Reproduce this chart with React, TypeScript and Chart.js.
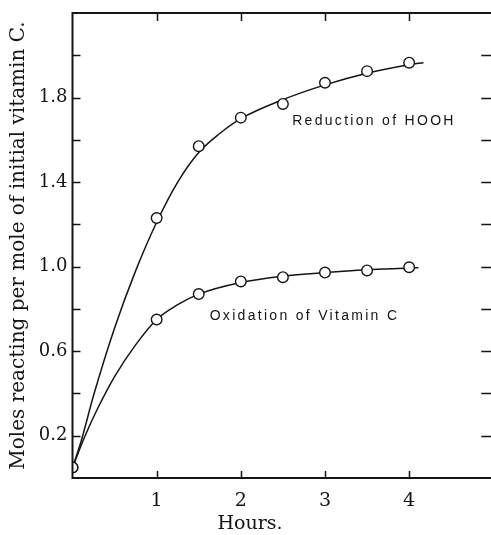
import React, { useEffect, useRef } from 'react';
import { Chart, registerables } from 'chart.js';

Chart.register(...registerables);

// Measured points (hours vs moles reacting per mole of initial vitamin C)
const hours = [0, 1, 1.5, 2, 2.5, 3, 3.5, 4];
const reductionHOOH = [0.05, 1.23, 1.57, 1.705, 1.77, 1.87, 1.925, 1.965];
const oxidationVitaminC = [0.05, 0.75, 0.87, 0.93, 0.95, 0.972, 0.982, 0.997];

// Hand-drawn smooth curves
const reductionCurveHours = [0, 0.1, 0.25, 0.5, 0.75, 1, 1.25, 1.5, 1.75, 2, 2.5, 3, 3.5, 4, 4.17];
const reductionCurveValues = [0.05, 0.17, 0.39, 0.71, 0.98, 1.21, 1.4, 1.54, 1.63, 1.7, 1.79, 1.86, 1.915, 1.955, 1.965];
const oxidationCurveHours = [0, 0.15, 0.3, 0.5, 0.75, 1, 1.25, 1.5, 2, 2.5, 3, 3.5, 4, 4.11];
const oxidationCurveValues = [0.05, 0.2, 0.33, 0.48, 0.63, 0.75, 0.82, 0.87, 0.925, 0.955, 0.972, 0.985, 0.993, 0.995];

const xTickLabels = [1, 2, 3, 4];
const yTickMarks = [0.2, 0.4, 0.6, 0.8, 1.0, 1.2, 1.4, 1.6, 1.8, 2.0];
const yTickLabels = [0.2, 0.6, 1.0, 1.4, 1.8];

const xAxisTitle = 'Hours.';
const xAxisTitleAt = 2.11; // hour value under the title's centre
const seriesLabels = ['Reduction of HOOH', 'Oxidation of Vitamin C'];
const seriesLabelAnchors = [
  { x: 2.61, y: 1.69 },
  { x: 1.63, y: 0.765 },
];

const INK = '#141414';
const SERIF = '"DejaVu Serif", "Liberation Serif", serif';

const zeroPad = (s: any) => {
  s.paddingLeft = 0;
  s.paddingRight = 0;
  s.paddingTop = 0;
  s.paddingBottom = 0;
};

const framePlugin = {
  id: 'frameTicks',
  afterDraw(chart: any) {
    const { ctx, chartArea: a, scales } = chart;
    const x = scales.x;
    const y = scales.y;
    ctx.save();
    ctx.strokeStyle = INK;
    ctx.lineWidth = 2;
    ctx.beginPath();
    ctx.moveTo(chart.width, a.top);
    ctx.lineTo(a.left, a.top);
    ctx.lineTo(a.left, a.bottom);
    ctx.lineTo(chart.width, a.bottom);
    ctx.stroke();

    ctx.lineWidth = 1.5;
    ctx.beginPath();
    for (const v of yTickMarks) {
      const py = Math.round(y.getPixelForValue(v)) + 0.5;
      ctx.moveTo(a.left, py);
      ctx.lineTo(a.left + 8, py);
      ctx.moveTo(a.right, py);
      ctx.lineTo(a.right - 12, py);
    }
    for (const v of xTickLabels) {
      const px = Math.round(x.getPixelForValue(v)) + 0.5;
      ctx.moveTo(px, a.top);
      ctx.lineTo(px, a.top + 8);
      ctx.moveTo(px, a.bottom);
      ctx.lineTo(px, a.bottom - 7);
    }
    ctx.stroke();

    ctx.fillStyle = INK;
    ctx.font = '19px ' + SERIF;
    ctx.textAlign = 'center';
    ctx.textBaseline = 'alphabetic';
    ctx.fillText(xAxisTitle, x.getPixelForValue(xAxisTitleAt), 529);
    ctx.restore();
  },
};

const labelPlugin = {
  id: 'seriesLabels',
  afterDatasetsDraw(chart: any) {
    const { ctx, scales } = chart;
    ctx.save();
    ctx.fillStyle = INK;
    ctx.font = '14px "Liberation Sans", Arial, sans-serif';
    (ctx as any).letterSpacing = '2.3px';
    ctx.textAlign = 'left';
    ctx.textBaseline = 'middle';
    seriesLabels.forEach((t, i) => {
      const p = seriesLabelAnchors[i];
      ctx.fillText(t, scales.x.getPixelForValue(p.x), scales.y.getPixelForValue(p.y));
    });
    ctx.restore();
  },
};

export default function App() {
  const ref = useRef<HTMLCanvasElement | null>(null);

  useEffect(() => {
    if (!ref.current) return;
    const pts = (xs: number[], ys: number[]) => xs.map((h, i) => ({ x: h, y: ys[i] }));
    const markerStyle = {
      type: 'scatter' as const,
      showLine: false,
      pointRadius: 5.3,
      pointBackgroundColor: '#ffffff',
      pointBorderColor: INK,
      pointBorderWidth: 1.4,
    };
    const curveStyle = {
      type: 'line' as const,
      pointRadius: 0,
      borderColor: INK,
      borderWidth: 1.5,
      fill: false,
      cubicInterpolationMode: 'monotone' as const,
    };
    const chart = new Chart(ref.current, {
      type: 'line',
      data: {
        datasets: [
          { ...markerStyle, label: 'Reduction of HOOH (points)', data: pts(hours, reductionHOOH) },
          { ...markerStyle, label: 'Oxidation of Vitamin C (points)', data: pts(hours, oxidationVitaminC) },
          { ...curveStyle, label: 'Reduction of HOOH', data: pts(reductionCurveHours, reductionCurveValues) },
          { ...curveStyle, label: 'Oxidation of Vitamin C', data: pts(oxidationCurveHours, oxidationCurveValues) },
        ] as any,
      },
      options: {
        responsive: false,
        animation: false,
        devicePixelRatio: 1,
        layout: { padding: { top: 13, right: 0, left: 0, bottom: 0 } },
        plugins: { legend: { display: false }, tooltip: { enabled: false } },
        scales: {
          x: {
            type: 'linear',
            min: 0,
            max: 5,
            afterFit: (s: any) => { s.height = 57; zeroPad(s); },
            grid: { display: false, drawTicks: false, tickLength: 0 },
            border: { display: false },
            ticks: {
              stepSize: 1,
              autoSkip: false,
              maxRotation: 0,
              padding: 12,
              color: INK,
              font: { family: SERIF, size: 19 },
              callback: (v: any) => (xTickLabels.includes(Number(v)) ? String(v) : ''),
            },
            title: { display: false },
          },
          y: {
            type: 'linear',
            min: 0,
            max: 2.2,
            afterFit: (s: any) => { s.width = 72.5; zeroPad(s); },
            grid: { display: false, drawTicks: false, tickLength: 0 },
            border: { display: false },
            ticks: {
              stepSize: 0.2,
              autoSkip: false,
              padding: 5,
              color: INK,
              font: { family: SERIF, size: 18 },
              callback: (v: any) => {
                const n = Math.round(Number(v) * 10) / 10;
                return yTickLabels.some((t) => Math.abs(t - n) < 1e-6) ? n.toFixed(1) : '';
              },
            },
            title: {
              display: true,
              text: 'Moles reacting per mole of initial vitamin C.',
              color: INK,
              font: { family: SERIF, size: 20, lineHeight: 1.2 },
              padding: { top: 7, bottom: 0 },
            },
          },
        },
      } as any,
      plugins: [framePlugin, labelPlugin],
    });
    return () => chart.destroy();
  }, []);

  return (
    <div style={{ position: 'absolute', left: 0, top: 0, width: 491, height: 535, overflow: 'hidden', background: '#fff' }}>
      <canvas ref={ref} width={500} height={535} style={{ display: 'block' }} />
    </div>
  );
}
